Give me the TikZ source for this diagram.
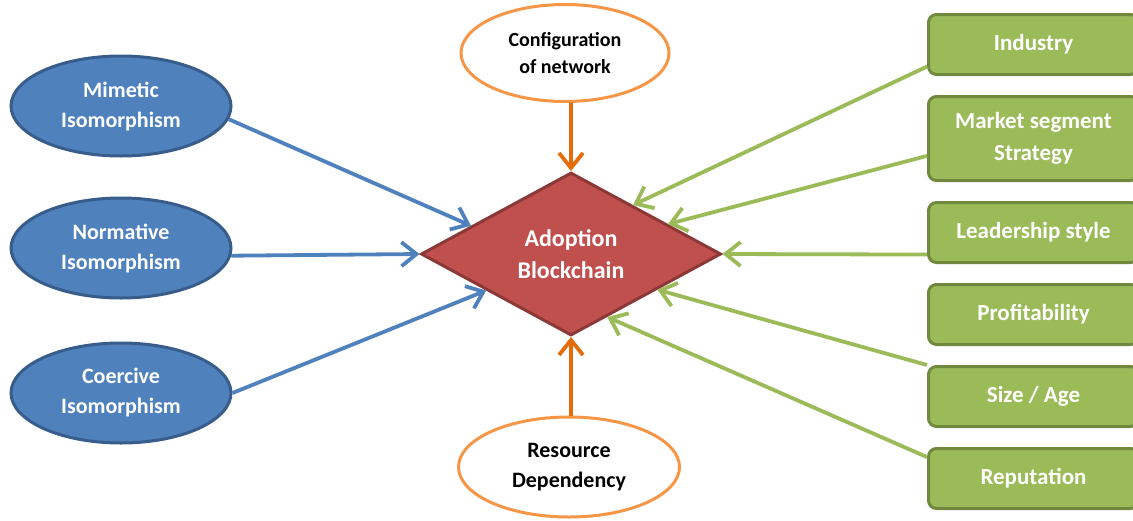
\documentclass[tikz,border=0pt]{standalone}
\usepackage{fontspec}
\setmainfont{Carlito}
\usepackage{tikz}
\usetikzlibrary{arrows.meta, shapes.geometric, positioning, calc}

\definecolor{bluefill}{HTML}{4F81BD}
\definecolor{blueline}{HTML}{385D8A}
\definecolor{redfill}{HTML}{C0504D}
\definecolor{redline}{HTML}{8C3836}
\definecolor{greenfill}{HTML}{9BBB59}
\definecolor{greenline}{HTML}{71893F}
\definecolor{orangeline}{HTML}{F79646}
\definecolor{orangearrow}{HTML}{E46C0A}

\begin{document}
\begin{tikzpicture}
  [x=0.5pt, y=-0.5pt,
    > = {Straight Barb[length=7.5pt, width=12pt]},
    oval/.style ={
        ellipse,
        line width=1.5pt,
        align=center,
        minimum width=110pt,
        minimum height=50pt,
        font=\bfseries\fontsize{11}{15}\selectfont,
      },
    blueoval/.style ={oval, draw=blueline, fill=bluefill, text=white},
    orangeoval/.style ={oval, draw=orangeline, fill=white, text=black},
    box/.style ={
        rectangle,
        rounded corners=4pt,
        draw=greenline,
        fill=greenfill,
        line width=1.5pt,
        text=white,
        align=center,
        minimum width=105pt,
        minimum height=30pt,
        font=\bfseries\fontsize{11.5}{16}\selectfont,
      },
    link/.style ={->, line width=1.9pt},
  ]
  \useasboundingbox (0,0) rectangle (1133,520);

  % left side
  \node[blueoval] (mimetic) at (121,106) {Mimetic\\Isomorphism};
  \node[blueoval] (normative) at (121,248) {Normative\\Isomorphism};
  \node[blueoval] (coercive) at (121,393) {Coercive\\Isomorphism};

  % top and bottom
  \node[orangeoval, minimum width=104pt, minimum height=48.5pt, font=\bfseries\fontsize{10}{13.5}\selectfont] (config) at (565,53) {Configuration\\of network};
  \node[orangeoval, minimum width=110.5pt, font=\bfseries\fontsize{11}{15}\selectfont] (resource) at (569,467) {Resource\\Dependency};

  % centre
  \node[diamond, aspect=1.8, inner sep=0pt, minimum width=150pt, minimum height=81.5pt,
        draw=redline, fill=redfill, line width=1.5pt, text=white, align=center,
        font=\bfseries\fontsize{12}{16}\selectfont] (adoption) at (571,254) {Adoption\\Blockchain};

  % right side
  \node[box] (industry) at (1033.5,44.5) {Industry};
  \node[box, minimum height=42pt, below=9.5pt of industry] (market) {Market segment\\Strategy};
  \node[box, below=9.5pt of market] (leadership) {Leadership style};
  \node[box, below=9.5pt of leadership] (profit) {Profitability};
  \node[box, below=9.5pt of profit] (size) {Size / Age};
  \node[box, below=9.5pt of size] (reputation) {Reputation};

  \draw[link, bluefill] (mimetic.-7) -- ($(adoption.west)!0.34!(adoption.north)$);
  \draw[link, bluefill] (normative.-4) -- (adoption.west);
  \draw[link, bluefill] (coercive.east) -- ($(adoption.west)!0.44!(adoption.south)$);

  \draw[link, orangearrow] (config.south -| adoption.north) -- (adoption.north);
  \draw[link, orangearrow] (resource.north -| adoption.south) -- (adoption.south);

  \draw[link, greenfill] ($(industry.south west)!0.15!(industry.north west)$) -- ($(adoption.north)!0.41!(adoption.east)$);
  \draw[link, greenfill] ($(market.south west)!0.3!(market.north west)$) -- ($(adoption.north)!0.64!(adoption.east)$);
  \draw[link, greenfill] ($(leadership.south west)!0.15!(leadership.north west)$) -- (adoption.east);
  \draw[link, greenfill] (size.north west) -- ($(adoption.east)!0.43!(adoption.south)$);
  \draw[link, greenfill] ($(reputation.south west)!0.84!(reputation.north west)$) -- ($(adoption.east)!0.76!(adoption.south)$);
\end{tikzpicture}
\end{document}
